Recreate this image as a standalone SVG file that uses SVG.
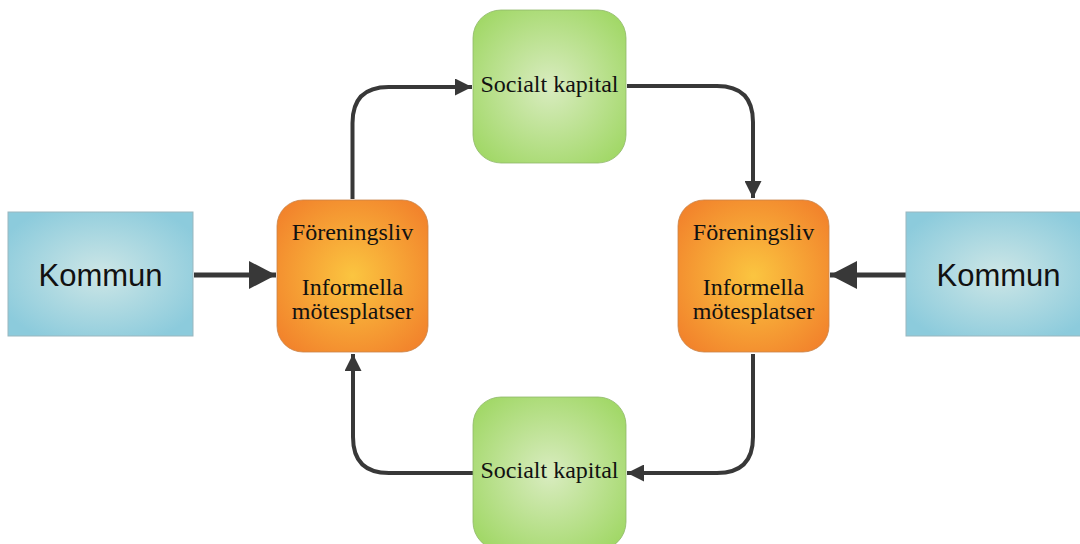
<svg xmlns="http://www.w3.org/2000/svg" width="1080" height="544" viewBox="0 0 1080 544">
<defs>
<radialGradient id="gBlue" cx="50%" cy="50%" r="60%">
<stop offset="0" stop-color="#cde6e6"/>
<stop offset="1" stop-color="#8ccbdc"/>
</radialGradient>
<radialGradient id="gOrange" cx="50%" cy="50%" r="62%">
<stop offset="0" stop-color="#fbc540"/>
<stop offset="1" stop-color="#f2842c"/>
</radialGradient>
<radialGradient id="gGreen" cx="50%" cy="50%" r="62%">
<stop offset="0" stop-color="#d9ecc0"/>
<stop offset="1" stop-color="#a2d868"/>
</radialGradient>
<marker id="ah" viewBox="0 0 17 17" refX="17" refY="8.5" markerWidth="17" markerHeight="17" markerUnits="userSpaceOnUse" orient="auto">
<path d="M0,0 L17,8.5 L0,17 Z" fill="#383838"/>
</marker>
<marker id="ahBig" viewBox="0 0 27 28" refX="27" refY="14" markerWidth="27" markerHeight="28" markerUnits="userSpaceOnUse" orient="auto">
<path d="M0,0 L27,14 L0,28 Z" fill="#383838"/>
</marker>
</defs>
<style>
.kom{fill:url(#gBlue);stroke:#9ab7bf;stroke-width:1}
.org{fill:url(#gOrange);stroke:#c9844a;stroke-width:0.8}
.grn{fill:url(#gGreen);stroke:#8fb86a;stroke-width:0.8}
.ktxt{font-family:"Liberation Sans",Arial,sans-serif;font-size:31px;fill:#111;text-anchor:middle}
.stxt{font-family:"Liberation Serif","Times New Roman",serif;font-size:24px;fill:#111;text-anchor:middle}
.con{fill:none;stroke:#383838;stroke-width:4;marker-end:url(#ah)}
.conBig{fill:none;stroke:#383838;stroke-width:5;marker-end:url(#ahBig)}
</style>
<g id="connectors">
<path class="con" d="M352.5,199 V123 Q352.5,87 388.5,87 H472"/>
<path class="con" d="M627,86 H717 Q753,86 753,122 V198"/>
<path class="con" d="M753,354 V437 Q753,473 717,473 H627"/>
<path class="con" d="M473,473 H389 Q353,473 353,437 V354"/>
<path class="conBig" d="M194,275 H276"/>
<path class="conBig" d="M906,275 H830"/>
</g>
<g id="kommun-left">
<rect class="kom" x="8" y="212" width="185" height="124"/>
<text class="ktxt" x="100.5" y="286">Kommun</text>
</g>
<g id="kommun-right">
<rect class="kom" x="906" y="212" width="185" height="124"/>
<text class="ktxt" x="998.5" y="286">Kommun</text>
</g>
<g id="forening-left">
<rect class="org" x="277" y="200" width="151" height="152" rx="26" ry="26"/>
<text class="stxt" x="352.5" y="240">Föreningsliv</text>
<text class="stxt" x="352.5" y="295">Informella</text>
<text class="stxt" x="352.5" y="319">mötesplatser</text>
</g>
<g id="forening-right">
<rect class="org" x="678" y="200" width="151" height="152" rx="26" ry="26"/>
<text class="stxt" x="753.5" y="240">Föreningsliv</text>
<text class="stxt" x="753.5" y="295">Informella</text>
<text class="stxt" x="753.5" y="319">mötesplatser</text>
</g>
<g id="socialt-top">
<rect class="grn" x="473" y="10" width="153" height="153" rx="28" ry="28"/>
<text class="stxt" x="549.5" y="92">Socialt kapital</text>
</g>
<g id="socialt-bottom">
<rect class="grn" x="473" y="397" width="153" height="153" rx="28" ry="28"/>
<text class="stxt" x="549.5" y="478">Socialt kapital</text>
</g>
</svg>
